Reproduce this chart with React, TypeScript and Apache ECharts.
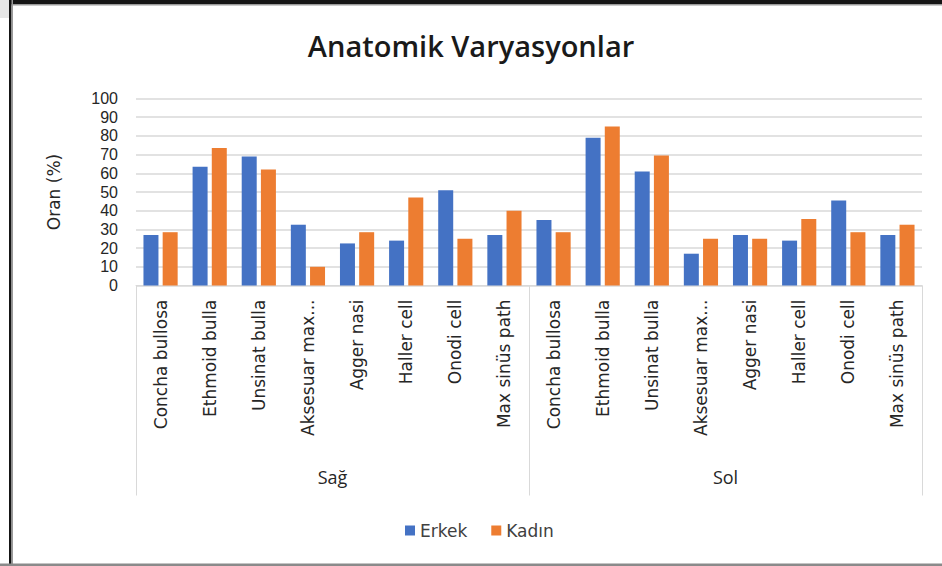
import React, { useEffect, useRef } from "react";
import * as echarts from "echarts";

const categories = [
  "Concha bullosa",
  "Ethmoid bulla",
  "Unsinat bulla",
  "Aksesuar max...",
  "Agger nasi",
  "Haller cell",
  "Onodi cell",
  "Max sinüs path",
];
const sides = ["Sağ", "Sol"];
const seriesNames = ["Erkek", "Kadın"];

const erkekSag = [27, 63.5, 69, 32.5, 22.5, 24, 51, 27];
const kadinSag = [28.5, 73.5, 62, 10, 28.5, 47, 25, 40];
const erkekSol = [35, 79, 61, 17, 27, 24, 45.5, 27];
const kadinSol = [28.5, 85, 69.5, 25, 25, 35.5, 28.5, 32.5];

const yTicks = [0, 100, 10];

export default function App() {
  const ref = useRef<HTMLDivElement>(null);
  useEffect(() => {
    if (!ref.current) return;
    const chart = echarts.init(ref.current, null, { renderer: "svg" });
    const labels = [...categories, ...categories];
    const font = "'Open Sans', sans-serif";
    const wide = "'DejaVu Sans', sans-serif";
    const num = "'Liberation Sans', sans-serif";
    chart.setOption({
      animation: false,
      backgroundColor: "#ffffff",
      title: {
        text: "Anatomik Varyasyonlar",
        left: "center",
        top: 26,
        textStyle: { fontFamily: font, fontSize: 29, fontWeight: 600, color: "#1a1a1a" },
      },
      legend: {
        data: seriesNames,
        left: 400,
        top: 517,
        itemWidth: 10,
        itemHeight: 10,
        itemGap: 24,
        icon: "rect",
        textStyle: { fontFamily: wide, fontSize: 17, color: "#404040" },
      },
      grid: { left: 136, right: 20, top: 98.5, bottom: 280.5 },
      xAxis: [
        {
          type: "category",
          data: labels,
          position: "bottom",
          axisLine: { show: true, lineStyle: { color: "#d9d9d9", width: 1 } },
          axisTick: { show: false },
          axisLabel: {
            rotate: 90,
            interval: 0,
            margin: 14,
            fontFamily: wide,
            fontSize: 17,
            color: "#262626",
          },
        },
        {
          type: "category",
          data: sides,
          position: "bottom",
          axisLine: { show: false },
          axisTick: { show: true, interval: 0, length: 210, lineStyle: { color: "#d9d9d9" } },
          axisLabel: { margin: 182, fontFamily: font, fontSize: 18, color: "#262626" },
        },
      ],
      yAxis: {
        type: "value",
        min: yTicks[0],
        max: yTicks[1],
        interval: yTicks[2],
        name: "Oran (%)",
        nameLocation: "middle",
        nameGap: 74,
        nameTextStyle: { fontFamily: wide, fontSize: 17, color: "#262626" },
        axisLine: { show: false },
        axisTick: { show: false },
        axisLabel: { margin: 18, fontFamily: num, fontSize: 16, lineHeight: 16, color: "#262626" },
        splitLine: { lineStyle: { color: "#d9d9d9", width: 1.5 } },
      },
      series: [
        {
          name: seriesNames[0],
          type: "bar",
          xAxisIndex: 0,
          data: [...erkekSag, ...erkekSol],
          barWidth: 15,
          barGap: "28%",
          itemStyle: { color: "#4472C4" },
        },
        {
          name: seriesNames[1],
          type: "bar",
          xAxisIndex: 0,
          data: [...kadinSag, ...kadinSol],
          barWidth: 15,
          barGap: "28%",
          itemStyle: { color: "#ED7D31" },
        },
      ],
      graphic: [
        { type: "rect", shape: { x: 0, y: 0, width: 942, height: 4 }, style: { fill: "#151515" }, silent: true },
        { type: "rect", shape: { x: 0, y: 4, width: 942, height: 1.5 }, style: { fill: "#9a9a9a" }, silent: true },
        { type: "rect", shape: { x: 0, y: 0, width: 9, height: 18 }, style: { fill: "#e6e6e6" }, silent: true },
        { type: "rect", shape: { x: 9, y: 0, width: 2.5, height: 566 }, style: { fill: "#151515" }, silent: true },
        { type: "rect", shape: { x: 11.5, y: 0, width: 1.5, height: 566 }, style: { fill: "#9a9a9a" }, silent: true },
        { type: "rect", shape: { x: 0, y: 563.5, width: 942, height: 2.5 }, style: { fill: "#8a8a8a" }, silent: true },
      ],
    });
    return () => chart.dispose();
  }, []);
  return (
    <div
      ref={ref}
      style={{ position: "fixed", left: 0, top: 0, width: 942, height: 566 }}
    />
  );
}
